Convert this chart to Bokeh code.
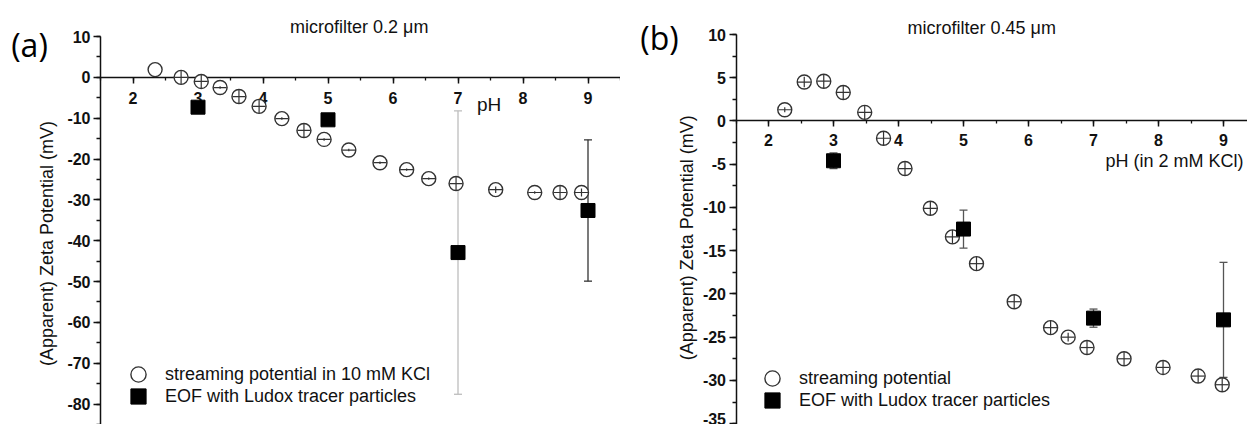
import math
from bokeh.plotting import figure
from bokeh.models import (ColumnDataSource, Range1d, SingleIntervalTicker, Label,
                          Legend, LegendItem, CustomJSTickFormatter)
from bokeh.layouts import row
from bokeh.embed import file_html
from bokeh.resources import INLINE

# ---------------- data: panel (a) microfilter 0.2 um ----------------
sp_a_ph = [2.34, 2.74, 3.05, 3.34, 3.63, 3.94, 4.29, 4.63, 4.94, 5.32, 5.80, 6.21,
           6.55, 6.97, 7.58, 8.18, 8.57, 8.90]
sp_a_zeta = [1.9, 0.0, -1.0, -2.5, -4.7, -7.1, -10.1, -13.0, -15.2, -17.8, -20.9, -22.6,
             -24.8, -26.0, -27.5, -28.2, -28.2, -28.2]
sp_a_xerr = [0.0, 0.1, 0.1, 0.1, 0.1, 0.1, 0.1, 0.1, 0.1, 0.1, 0.1, 0.1,
             0.1, 0.1, 0.1, 0.1, 0.1, 0.1]
sp_a_yerr = [0.0, 1.6, 1.6, 0.3, 1.6, 1.6, 0.3, 1.6, 0.3, 0.3, 0.3, 0.3,
             0.3, 1.6, 0.8, 0.3, 1.6, 1.0]

eof_a_ph = [3, 5, 7, 9]
eof_a_zeta = [-7.3, -10.4, -42.9, -32.6]
eof_a_err = [0.0, 0.0, 34.7, 17.3]
eof_a_err_color = ["#333333", "#333333", "#bdbdbd", "#333333"]

# ---------------- data: panel (b) microfilter 0.45 um ----------------
sp_b_ph = [2.25, 2.55, 2.85, 3.15, 3.48, 3.77, 4.10, 4.49, 4.83, 5.20, 5.78, 6.34,
           6.61, 6.90, 7.47, 8.07, 8.61, 8.98]
sp_b_zeta = [1.3, 4.5, 4.6, 3.3, 1.0, -2.0, -5.5, -10.1, -13.4, -16.5, -20.9, -23.9,
             -25.0, -26.2, -27.5, -28.5, -29.5, -30.5]
sp_b_xerr = [0.1] * 18
sp_b_yerr = [0.3, 0.6, 0.8, 0.8, 0.8, 0.8, 0.8, 0.8, 0.8, 0.8, 0.8, 0.8,
             0.5, 0.8, 0.8, 0.8, 0.8, 0.8]

eof_b_ph = [3, 5, 7, 9]
eof_b_zeta = [-4.6, -12.5, -22.8, -23.0]
eof_b_err = [0.9, 2.2, 1.05, 6.65]
eof_b_err_color = ["#555555", "#555555", "#555555", "#555555"]

FONT = "Liberation Sans"
INK = "#111111"
MARK = "#333333"


def panel(width, height, view_x, view_y, axis_x, axis_y, y_interval,
          sp_ph, sp_z, sp_xe, sp_ye, eof_ph, eof_z, eof_e, eof_c,
          title, title_x, title_dy, tag, tag_dx, tag_dy,
          ylab_dx, ylab_y, legend_labels, legend_locs, x_standoff):
    p = figure(width=width, height=height, output_backend="svg", toolbar_location=None,
               x_range=Range1d(*view_x), y_range=Range1d(*view_y),
               min_border_left=0, min_border_right=0,
               min_border_top=0, min_border_bottom=0,
               background_fill_color="white", border_fill_color="white")
    p.outline_line_color = None
    p.grid.visible = False

    # axes crossing at (pH start, 0)
    p.xaxis.fixed_location = 0
    p.yaxis.fixed_location = axis_x[0]
    p.xaxis.bounds = axis_x
    p.yaxis.bounds = axis_y
    p.xaxis.level = "underlay"
    p.xaxis.ticker = SingleIntervalTicker(interval=1, num_minor_ticks=2)
    p.yaxis.ticker = SingleIntervalTicker(interval=y_interval, num_minor_ticks=2)
    fmt = "return Math.round(tick).toString();"
    for ax in (p.xaxis, p.yaxis):
        ax.formatter = CustomJSTickFormatter(code=fmt)
        ax.axis_line_color = INK
        ax.axis_line_width = 1.5
        ax.major_tick_line_color = INK
        ax.major_tick_line_width = 1.5
        ax.minor_tick_line_color = INK
        ax.minor_tick_line_width = 1.3
        ax.major_tick_in = 0
        ax.minor_tick_in = 0
        ax.major_label_text_font = FONT
        ax.major_label_text_font_size = "16px"
        ax.major_label_text_font_style = "bold"
        ax.major_label_text_color = INK
    p.xaxis.major_tick_out = 6
    p.xaxis.minor_tick_out = 3
    p.xaxis.major_label_standoff = x_standoff
    p.yaxis.major_tick_out = 7
    p.yaxis.minor_tick_out = 4
    p.yaxis.major_label_standoff = 3

    # EOF error bars
    es = ColumnDataSource(dict(
        x=eof_ph, y=eof_z,
        lo=[z - e for z, e in zip(eof_z, eof_e)],
        hi=[z + e for z, e in zip(eof_z, eof_e)],
        c=eof_c))
    p.segment(x0="x", y0="lo", x1="x", y1="hi", source=es, line_color="c", line_width=1.3)
    p.scatter(x="x", y="lo", source=es, marker="dash", size=8, line_color="c", line_width=1.3)
    p.scatter(x="x", y="hi", source=es, marker="dash", size=8, line_color="c", line_width=1.3)

    # streaming potential circles with their small error bars
    ss = ColumnDataSource(dict(
        x=sp_ph, y=sp_z,
        xl=[x - e for x, e in zip(sp_ph, sp_xe)], xh=[x + e for x, e in zip(sp_ph, sp_xe)],
        yl=[y - e for y, e in zip(sp_z, sp_ye)], yh=[y + e for y, e in zip(sp_z, sp_ye)]))
    circ = p.scatter(x="x", y="y", source=ss, marker="circle", size=14,
                     fill_color="white", line_color=MARK, line_width=1.4)
    p.segment(x0="xl", y0="y", x1="xh", y1="y", source=ss, line_color=MARK, line_width=1.2)
    p.segment(x0="x", y0="yl", x1="x", y1="yh", source=ss, line_color=MARK, line_width=1.2)

    # EOF squares
    sq = p.scatter(x="x", y="y", source=es, marker="square", size=14,
                   fill_color="black", line_color="black")

    # texts
    p.add_layout(Label(x=title_x, y=axis_y[1], y_offset=title_dy, text=title,
                       text_align="center", text_baseline="middle",
                       text_font=FONT, text_font_size="18px", text_color=INK))
    p.add_layout(Label(x=axis_x[0], y=axis_y[1], x_offset=tag_dx, y_offset=tag_dy, text=tag,
                       text_align="center", text_baseline="middle",
                       text_font="Open Sans", text_font_size="32px", text_color="black"))
    p.add_layout(Label(x=axis_x[0], y=ylab_y, x_offset=ylab_dx,
                       text="(Apparent) Zeta Potential (mV)", angle=math.pi / 2,
                       text_align="center", text_baseline="middle",
                       text_font=FONT, text_font_size="18px", text_color=INK))

    for lab, r, loc in zip(legend_labels, (circ, sq), legend_locs):
        legend = Legend(items=[LegendItem(label=lab, renderers=[r])],
                        location=loc, glyph_width=38, glyph_height=38,
                        padding=0, margin=0, label_standoff=8, label_height=22,
                        label_text_font=FONT, label_text_font_size="18px",
                        label_text_color=INK, border_line_color=None,
                        background_fill_alpha=0)
        p.add_layout(legend)
    return p


pa = panel(620, 424, (9.5 - 620 / 65, 9.5), (-85, 10 + 36 / 4.084), (1.5, 9.5), (-85, 10), 10,
           sp_a_ph, sp_a_zeta, sp_a_xerr, sp_a_yerr,
           eof_a_ph, eof_a_zeta, eof_a_err, eof_a_err_color,
           "microfilter 0.2 \u03bcm", 5.48, 10, "(a)", -71, -8,
           -53.5, -40.7,
           ["streaming potential in 10 mM KCl", "EOF with Ludox tracer particles"],
           [(119, 31), (119, 9)], 9)
pa.add_layout(Label(x=7.48, y=-6.6, text="pH", text_align="center", text_baseline="middle",
                    text_font=FONT, text_font_size="19px", text_color=INK))

x0b = 1.5 - 115.5 / 65
pb = panel(627, 424, (x0b, x0b + 627 / 65), (-35.1, 10 + 34 / 8.647), (1.5, x0b + 627 / 65),
           (-35.1, 10), 5,
           sp_b_ph, sp_b_zeta, sp_b_xerr, sp_b_yerr,
           eof_b_ph, eof_b_zeta, eof_b_err, eof_b_err_color,
           "microfilter 0.45 \u03bcm", 5.28, 7, "(b)", -76.5, -3,
           -49.5, -13.5,
           ["streaming potential", "EOF with Ludox tracer particles"],
           [(133, 27), (133, 5)], 7)
pb.add_layout(Label(x=x0b + 623 / 65, y=-4.6, text="pH (in 2 mM KCl)", text_align="right",
                    text_baseline="middle", text_font=FONT, text_font_size="18px",
                    text_color=INK))

layout = row(pa, pb)
open("out.html", "w").write(file_html(layout, INLINE))
